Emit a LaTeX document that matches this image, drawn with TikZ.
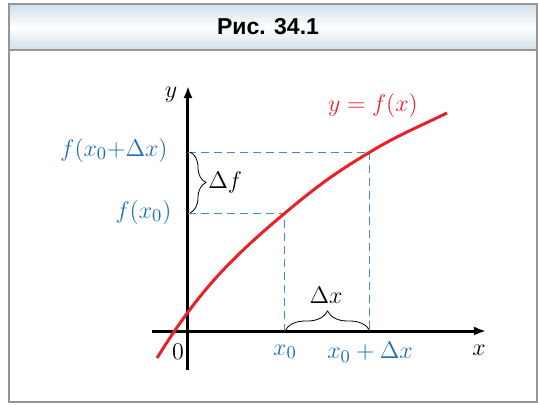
\documentclass[tikz,border=0pt]{standalone}
\usepackage{fontspec}
\newfontfamily\titlefont{Liberation Sans}
\usetikzlibrary{positioning,arrows.meta,decorations.pathreplacing}
\definecolor{curvered}{RGB}{232,32,40}
\definecolor{labelblue}{RGB}{28,110,182}
\definecolor{dashblue}{RGB}{70,135,200}
\definecolor{framegray}{RGB}{150,150,152}
\definecolor{headblue}{RGB}{208,223,232}
\tikzset{
  axis/.style={line width=1.5pt, -{Latex[length=6pt,width=4.5pt]}},
  curve/.style={curvered, line width=1.5pt},
  guide/.style={dashblue, line width=0.5pt, dash pattern=on 4pt off 2.5pt},
  bracket/.style={decorate, line width=0.4pt},
  bluelabel/.style={labelblue, inner sep=1pt}
}
\begin{document}
\begin{tikzpicture}[x=0.5pt, y=0.5pt, font=\fontsize{12.5}{15}\selectfont]
  \useasboundingbox (0,0) rectangle (538,404);
  % Frame and header
  \shade[top color=headblue, bottom color=headblue, middle color=white] (9,354) rectangle (537,400);
  \draw[framegray, line width=1pt] (9,2) rectangle (537,400);
  \draw[framegray, line width=1pt] (9,354) -- (537,354);
  \node (title) at (268,377) {\titlefont\bfseries\fontsize{11.5}{13}\selectfont Рис. 34.1};
  % Points
  \coordinate (O) at (188,73);
  \coordinate (A) at (285,191);
  \coordinate (B) at (370,252);
  \coordinate (cstart) at (157,46);
  \coordinate (cend) at (447,291);
  % Axes
  \draw[axis] (152,73) -- (486,73) coordinate (xend);
  \draw[axis] (188,34) -- (188,318) coordinate (yend);
  \node (xlab) at (479,54) {$x$};
  \node (ylab) at (171,309) {$y$};
  \node (zero) at (178,52) {$0$};
  % Dashed guides
  \draw[guide] (O |- B) -- (B) -- (B |- O);
  \draw[guide] (O |- A) -- (A) -- (A |- O);
  % Curve
  \draw[curve] (cstart) to[out=58, in=220] (A) to[out=40, in=211] (B) to[out=31, in=206] (cend);
  \node[curvered] (flab) at (373,299) {$y=f(x)$};
  % Braces
  \draw[bracket, decoration={brace, amplitude=8pt}] (190,252) -- (190,191);
  \node[anchor=west, inner sep=1pt] (df) at (206,222) {$\Delta f$};
  \draw[bracket, decoration={brace, amplitude=10pt}] (A |- O) -- (B |- O);
  \node (dx) at (326,109) {$\Delta x$};
  % Blue labels
  \node[bluelabel, anchor=east] (fxdx) at (170,254) {$f(x_0{+}\Delta x)$};
  \node[bluelabel, anchor=east] (fx) at (174,192) {$f(x_0)$};
  \node[bluelabel] (x0) at (285,52) {$x_0$};
  \node[bluelabel] (x0dx) at (370,52) {$x_0+\Delta x$};
\end{tikzpicture}
\end{document}
